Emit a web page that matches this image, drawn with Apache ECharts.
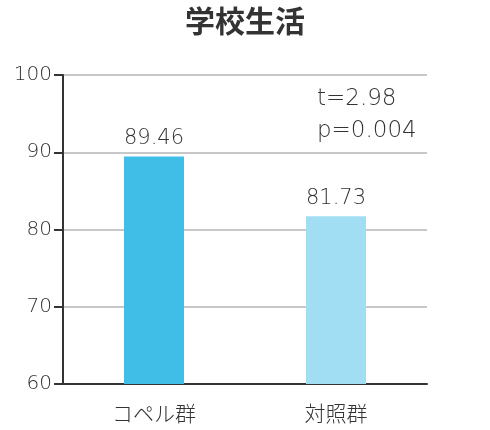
<!DOCTYPE html>
<html><head><meta charset="utf-8">
<script src="https://cdn.jsdelivr.net/npm/echarts@6/dist/echarts.min.js"></script>
<style>html,body{margin:0;padding:0;background:#fff}#c{width:490px;height:430px}</style>
</head><body><div id="c"></div>
<script>
const titleText = '学校生活';
const categories = ['コペル群', '対照群'];
const values = [89.46, 81.73];
const barColors = ['#41BEE8', '#A1DEF3'];
const yTicks = [60, 70, 80, 90, 100];
const statLines = ['t=2.98', 'p=0.004'];

const JP = '"Noto Sans CJK JP", "Noto Sans", sans-serif';
const NUM = '"DejaVu Sans", sans-serif';
const chart = echarts.init(document.getElementById('c'), null, {renderer: 'canvas'});
chart.setOption({
  animation: false,
  textStyle: {fontFamily: JP},
  title: {
    text: titleText, left: 'center', top: 1,
    textStyle: {fontFamily: JP, fontSize: 30, fontWeight: 'bold', color: '#333'}
  },
  grid: {left: 63, right: 63, top: 75, bottom: 46},
  xAxis: {
    type: 'category', data: categories,
    axisLine: {lineStyle: {color: '#333', width: 2}},
    axisTick: {show: false},
    axisLabel: {color: '#333', fontSize: 21, margin: 19, fontFamily: JP, fontWeight: 300}
  },
  yAxis: {
    type: 'value', min: yTicks[0], max: yTicks[yTicks.length - 1], interval: 10,
    axisLine: {show: true, lineStyle: {color: '#333', width: 2}},
    axisTick: {show: true, length: 9, lineStyle: {color: '#333', width: 2}},
    axisLabel: {color: '#333', fontSize: 20, margin: 11, fontFamily: NUM, fontWeight: 200},
    splitLine: {lineStyle: {color: '#c8c8c8', width: 2}}
  },
  series: [{
    type: 'bar', barWidth: 60,
    data: values.map((v, i) => ({value: v, itemStyle: {color: barColors[i]}})),
    label: {show: true, position: 'top', distance: 7, color: '#333', fontSize: 21,
      fontFamily: NUM, fontWeight: 200, formatter: p => p.value.toFixed(2)}
  }],
  graphic: [{
    type: 'text', left: 317, top: 83,
    style: {text: statLines.join('\n'), fontSize: 23, lineHeight: 32, fill: '#333',
      fontFamily: NUM, fontWeight: 200}
  }]
});
</script></body></html>
